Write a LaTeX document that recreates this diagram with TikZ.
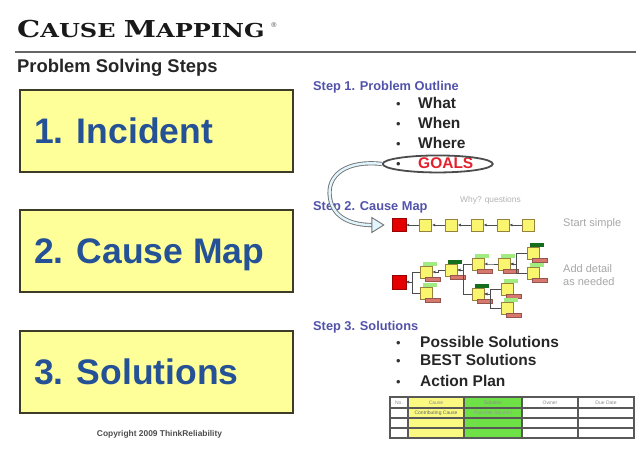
\documentclass[tikz,border=0pt]{standalone}
\usepackage{graphicx}
\usepackage{fontspec}
\setmainfont{Liberation Sans}
\newfontfamily\titlefont{DejaVu Serif}
\usetikzlibrary{positioning,shapes.geometric,arrows.meta,calc}

\definecolor{boxyellow}{RGB}{255,255,153}
\definecolor{boxline}{RGB}{60,60,40}
\definecolor{stepblue}{RGB}{37,82,150}
\definecolor{hdrblue}{RGB}{82,82,170}
\definecolor{goalred}{RGB}{228,32,44}
\definecolor{mapyellow}{RGB}{250,245,110}
\definecolor{mapline}{RGB}{150,130,60}
\definecolor{lightgreen}{RGB}{160,235,130}
\definecolor{darkgreen}{RGB}{20,110,30}
\definecolor{salmon}{RGB}{215,120,110}
\definecolor{tabgreen}{RGB}{110,225,70}
\definecolor{tabyellow}{RGB}{250,250,130}

\tikzset{
  titletext/.style={font=\titlefont\bfseries, text=black!90, inner sep=0pt, anchor=base west},
  subtitle/.style={font=\fontsize{18.4}{20}\selectfont\bfseries, text=black!85, inner sep=0pt, anchor=base west},
  stepbox/.style={draw=boxline, line width=2.2pt, fill=boxyellow, minimum width=273pt, minimum height=82pt, inner sep=0pt},
  steptext/.style={text=stepblue, font=\fontsize{35.5}{40}\selectfont\bfseries, inner sep=0pt, anchor=base west},
  hdr/.style={text=hdrblue, font=\fontsize{12.8}{14}\selectfont\bfseries, inner sep=0pt, anchor=base west},
  item/.style={text=black!85, font=\fontsize{15.5}{17}\selectfont\bfseries, inner sep=0pt, text height=11pt, text depth=3.5pt, anchor=base west},
  dot/.style={text=black!80, font=\fontsize{13}{14}\selectfont, inner sep=0pt, anchor=base},
  ring/.style={ellipse, draw=black!70, line width=1.8pt, minimum width=110pt, minimum height=17pt, inner sep=0pt},
  redbox/.style={draw=red!60!black, fill=red!90!black, minimum width=14pt, minimum height=13pt, inner sep=0pt},
  mapbox/.style={draw=mapline, line width=0.8pt, fill=mapyellow, minimum size=12pt, inner sep=0pt},
  toptag/.style={fill=lightgreen, minimum width=14pt, minimum height=4pt, inner sep=0pt},
  bottag/.style={draw=salmon!70!black, line width=0.4pt, fill=salmon, minimum width=15pt, minimum height=4pt, inner sep=0pt},
  lnk/.style={draw=black!70, line width=0.8pt, arrows={Latex[length=3pt,width=3pt]-}},
  note/.style={text=black!35, font=\fontsize{11}{13}\selectfont, inner sep=0pt, align=left, anchor=west},
  cell/.style={draw=black!65, line width=1.5pt},
  celltext/.style={text=black!45, font=\fontsize{5}{6}\selectfont, inner sep=0pt},
  bigarrow/.style={draw=black!55, line width=0.9pt, double=cyan!12, double distance=2.4pt},
}

% one box of the cause map, with its two tags
\newcommand{\causebox}[3]{%
  \node[mapbox] (#1) at (#2) {};
  \node[toptag, fill=#3] (#1-top) at ([xshift=4pt,yshift=1.5pt]#1.north) {};
  \node[bottag] (#1-bot) at ([xshift=6.5pt,yshift=-1pt]#1.south) {};
}

\begin{document}
\begin{tikzpicture}[x=1pt, y=-1pt]
\useasboundingbox (0,0) rectangle (640,448);

% heading
\node[titletext] (title) at (17,37) {\scalebox{1.25}[1]{\fontsize{23.3}{26}\selectfont C\fontsize{19.2}{22}\selectfont AUSE\ \fontsize{23.3}{26}\selectfont M\fontsize{19.2}{22}\selectfont APPING}};
\node[font=\fontsize{7}{7}\selectfont, inner sep=0pt, text=black!70] (reg) at (274,25) {\textregistered};
\draw[black!60, line width=2.5pt] (15,52) -- (636,52);
\node[subtitle] (sub) at (17,72) {Problem Solving Steps};

% the three steps
\node[stepbox] (box1) at (156.5,131) {};
\node[stepbox] (box2) at (156.5,251) {};
\node[stepbox] (box3) at (156.5,372) {};
\node[steptext] (inc) at ([xshift=15pt,yshift=-12.5pt]box1.west) {1. Incident};
\node[steptext] (map) at ([xshift=15pt,yshift=-12.5pt]box2.west) {2. Cause Map};
\node[steptext] (sol) at ([xshift=15pt,yshift=-12.5pt]box3.west) {3. Solutions};
\node[font=\fontsize{8.4}{9}\selectfont\bfseries, text=black!70, inner sep=0pt] (copy) at (159.5,434) {Copyright 2009 ThinkReliability};

% step 1
\node[hdr] (s1) at (313,90) {Step 1. Problem Outline};
\node[item] (what) at (418,108) {What};
\node[item, below=5.5pt of what.south west, anchor=north west] (when) {When};
\node[item, below=5pt of when.south west, anchor=north west] (where) {Where};
\node[item, below=5.5pt of where.south west, anchor=north west, text=goalred] (goals) {GOALS};
\foreach \n in {what,when,where,goals}
  \node[dot] (\n-dot) at ([xshift=-19.5pt]\n.base west) {\textbullet};
\node[ring] (goalring) at ([xshift=-8pt,yshift=1pt]goals.center) {};

% step 2
\node[hdr] (s2) at (313,210) {Step 2. Cause Map};
\node[note, font=\fontsize{8.4}{9}\selectfont, text=black!30] (why) at (460,200) {Why? questions};

\node[redbox] (ch0) at (399,225) {};
\foreach \i [remember=\i as \p (initially 0)] in {1,...,5} {
  \node[mapbox, right=13pt of ch\p] (ch\i) {};
  \draw[lnk] (ch\p.east) -- (ch\i.west);
}
\node[note] (simple) at (563,224) {Start simple};

\node[redbox, minimum height=14pt] (root2) at (399,282) {};
\causebox{ta}{426,272}{lightgreen}
\causebox{tb}{426,293}{lightgreen}
\causebox{tc}{451,270}{darkgreen}
\causebox{td}{478,264}{lightgreen}
\causebox{te}{478,294}{darkgreen}
\causebox{tf}{504,264}{lightgreen}
\causebox{tg}{507,289}{lightgreen}
\causebox{th}{507,308}{lightgreen}
\causebox{ti}{533,253}{darkgreen}
\causebox{tj}{533,273}{lightgreen}
\foreach \a/\b in {root2/ta, root2/tb, ta/tc, tc/td, tc/te, td/tf, te/tg, te/th, tf/ti, tf/tj}
  \draw[lnk] (\a.east) -- ++(6,0) |- (\b.west);
\node[note] (detail) at (563,275) {Add detail\\as needed};

% arrow from the goals to the map
\coordinate (bend) at (330,198);
\coordinate (tip) at ([xshift=-8pt]ch0.west);
\coordinate (tipbase) at ([xshift=-20pt]ch0.west);
\draw[bigarrow] (goalring.west) .. controls (348,160) and (326,174) .. (bend) .. controls (333,218) and (352,225) .. (tipbase);
\filldraw[fill=cyan!12, draw=black!55, line width=0.9pt] ([yshift=7.5pt]tipbase) -- (tip) -- ([yshift=-7.5pt]tipbase) -- cycle;

% step 3
\node[hdr] (s3) at (313,330) {Step 3. Solutions};
\node[item] (poss) at (420,347) {Possible Solutions};
\node[item, below=4pt of poss.south west, anchor=north west] (best) {BEST Solutions};
\node[item, below=5.5pt of best.south west, anchor=north west] (plan) {Action Plan};
\foreach \n in {poss,best,plan}
  \node[dot] (\n-dot) at ([xshift=-21.5pt]\n.base west) {\textbullet};

% action plan table
\foreach \x/\xx/\cc in {390/408/white, 408/464/tabyellow, 464/522/tabgreen, 522/578/white, 578/634/white}
  \foreach \y/\yy in {397/408, 408/418, 418/428, 428/438}
    \draw[cell, fill=\cc] (\x,\y) rectangle (\xx,\yy);
\foreach \cx/\lbl [count=\k] in {399/No., 436/Cause, 493/Solution, 550/Owner, 606/Due Date}
  \node[celltext] (h\k) at (\cx,402.5) {\lbl};
\node[celltext, text=black!60] (r1c2) at (436,413) {Contributing Cause};
\node[celltext, text=black!40] (r1c3) at (493,413) {Possible Solution};

\end{tikzpicture}
\end{document}
